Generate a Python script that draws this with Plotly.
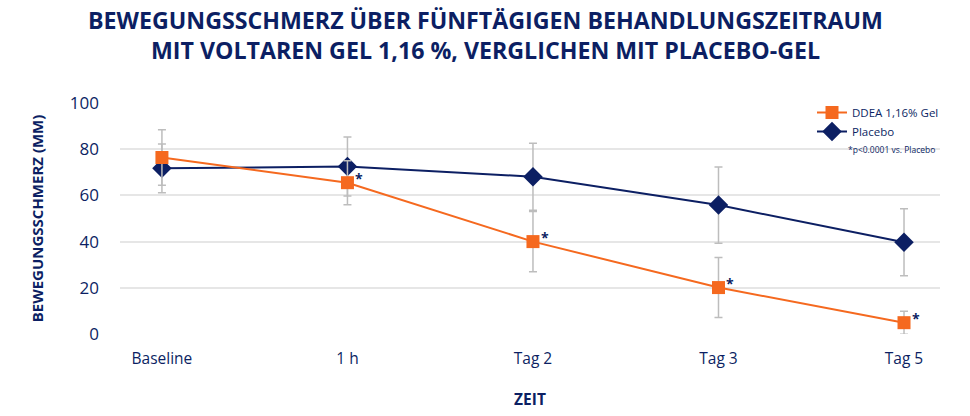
import plotly.graph_objects as go

categories = ["Baseline", "1 h", "Tag 2", "Tag 3", "Tag 5"]
ddea_values = [76.4, 65.5, 40.0, 20.1, 4.9]
ddea_err = [12.0, 9.5, 13.0, 13.0, 5.0]
placebo_values = [71.7, 72.5, 68.1, 55.8, 39.7]
placebo_err = [10.5, 12.8, 14.5, 16.5, 14.5]
significant = [False, True, True, True, True]
y_ticks = [0, 20, 40, 60, 80, 100]

NAVY = "#0c1f63"
ORANGE = "#f5691f"
GRAY = "#bdbdbd"
FONT = "Open Sans"

W, H = 970, 416
ML, MR, MT, MB = 120, 30, 103, 82
PW = W - ML - MR
PH = H - MT - MB

def px(x_ref):
    return (x_ref - ML) / PW

def py(y_ref):
    return (H - MB - y_ref) / PH

fig = go.Figure()
fig.add_trace(go.Scatter(
    x=list(range(len(categories))), y=placebo_values, name="Placebo",
    mode="lines+markers",
    line=dict(color=NAVY, width=2),
    marker=dict(symbol="diamond", size=15, color=NAVY),
    error_y=dict(type="data", array=placebo_err, color=GRAY, thickness=1.5, width=4),
    cliponaxis=False,
))
fig.add_trace(go.Scatter(
    x=list(range(len(categories))), y=ddea_values, name="DDEA 1,16% Gel",
    mode="lines+markers",
    line=dict(color=ORANGE, width=2),
    marker=dict(symbol="square", size=13, color=ORANGE),
    error_y=dict(type="data", array=ddea_err, color=GRAY, thickness=1.5, width=4),
    cliponaxis=False,
))

for i, (v, s) in enumerate(zip(ddea_values, significant)):
    if s:
        fig.add_annotation(x=i, y=v, xref="x", yref="y", text="<b>*</b>", showarrow=False,
                           xshift=12, yshift=4, font=dict(family=FONT, size=14, color=NAVY))

fig.add_annotation(x=px(485), xref="paper", y=py(35), yref="paper",
                   text="<b>BEWEGUNGSSCHMERZ ÜBER FÜNFTÄGIGEN BEHANDLUNGSZEITRAUM<br>MIT VOLTAREN GEL 1,16 %, VERGLICHEN MIT PLACEBO-GEL</b>",
                   showarrow=False, xanchor="center", yanchor="middle",
                   font=dict(family=FONT, size=23.2, color=NAVY))

fig.add_annotation(x=px(937), y=py(142), xref="paper", yref="paper",
                   text="*p<0.0001 vs. Placebo",
                   showarrow=False, xanchor="right", yanchor="top",
                   font=dict(family=FONT, size=8.5, color=NAVY))

fig.update_layout(
    width=W, height=H,
    margin=dict(l=ML, r=MR, t=MT, b=MB),
    paper_bgcolor="white", plot_bgcolor="white",
    font=dict(family=FONT, color=NAVY),
    xaxis=dict(
        tickmode="array", tickvals=list(range(len(categories))), ticktext=categories,
        range=[-0.226, 4.194], showgrid=False, zeroline=False, showline=False,
        tickfont=dict(family=FONT, size=15.5, color=NAVY), ticks="", ticklabelstandoff=13,
        title=dict(text="<b>ZEIT</b>", font=dict(family=FONT, size=15.5, color=NAVY), standoff=26),
    ),
    yaxis=dict(
        range=[0, 100], tickvals=y_ticks, showgrid=True, gridcolor="#e6e6e6", gridwidth=2,
        zeroline=False, showline=False,
        tickfont=dict(family=FONT, size=17, color=NAVY), ticks="", ticklabelstandoff=20,
        title=dict(text="<b>BEWEGUNGSSCHMERZ (MM)</b>", font=dict(family=FONT, size=15, color=NAVY), standoff=22),
    ),
    legend=dict(
        x=px(812), y=py(98), xanchor="left", yanchor="top",
        traceorder="reversed", bgcolor="rgba(255,255,255,0)",
        font=dict(family=FONT, size=11.5, color=NAVY),
        itemwidth=30, tracegroupgap=0,
    ),
)

fig.write_html("out.html", config={"displayModeBar": False},
               post_script="document.body.style.margin='0px';")
